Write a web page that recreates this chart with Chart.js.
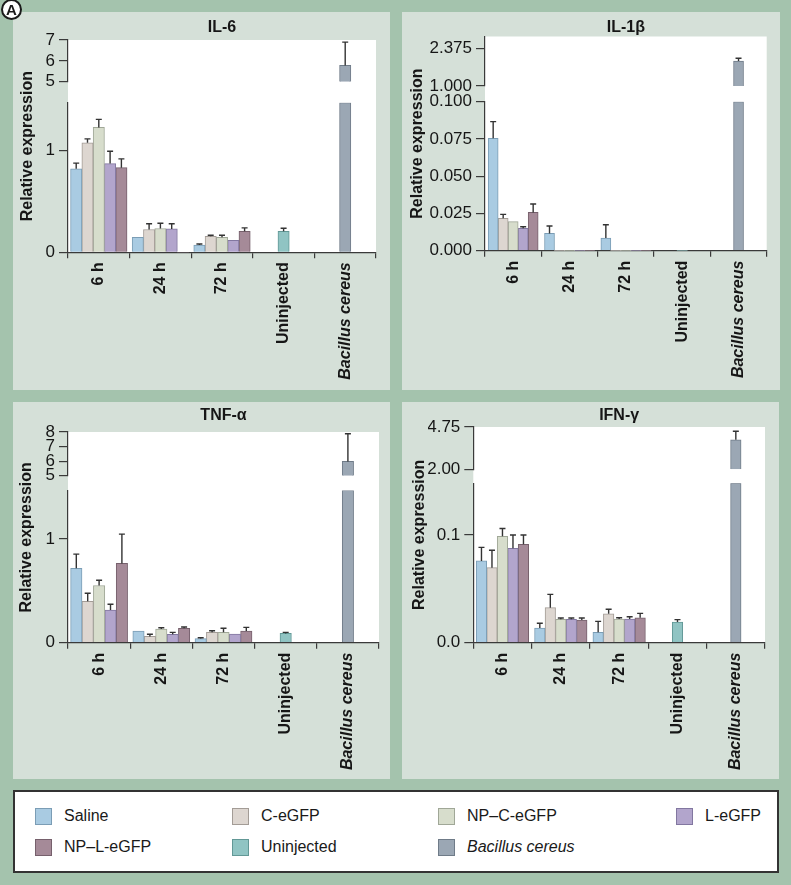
<!DOCTYPE html>
<html>
<head>
<meta charset="utf-8">
<script src="https://cdn.jsdelivr.net/npm/chart.js@4.4.1/dist/chart.umd.min.js"></script>
<style>
  html, body { margin:0; padding:0; }
  body { width:791px; height:885px; position:relative; overflow:hidden; background:#a4c3ad;
         font-family:"Liberation Sans", Arial, sans-serif; }
  .panel { position:absolute; background:#d5e0d8; }
  .panel canvas { position:absolute; left:0; top:0; }
  #legend { position:absolute; left:13px; top:790px; width:762px; height:79px; background:#fff;
            border:2px solid #333; }
  .lg-box { position:absolute; width:15px; height:15px; border:1px solid; }
  .lg-txt { position:absolute; font-size:16px; color:#1a1a1a; line-height:18px; white-space:nowrap; }
  #tag { position:absolute; left:1px; top:-1px; width:17px; height:17px; border:2px solid #1a1a1a;
         border-radius:50%; background:#fff; font:bold 15px "Liberation Sans", Arial, sans-serif;
         text-align:center; line-height:18px; color:#1a1a1a; }
</style>
</head>
<body>
<div class="panel" id="p1" style="left:13px; top:12px; width:377px; height:378px;"><canvas id="c1" width="377" height="378"></canvas></div>
<div class="panel" id="p2" style="left:402px; top:12px; width:378px; height:378px;"><canvas id="c2" width="378" height="378"></canvas></div>
<div class="panel" id="p3" style="left:13px; top:402px; width:377px; height:377px;"><canvas id="c3" width="377" height="377"></canvas></div>
<div class="panel" id="p4" style="left:402px; top:402px; width:377px; height:377px;"><canvas id="c4" width="377" height="377"></canvas></div>
<div id="legend"></div>
<div id="tag">A</div>

<script>
// ---------------- DATA ----------------
const CATEGORIES = ['6 h', '24 h', '72 h', 'Uninjected', 'Bacillus cereus'];
const SERIES = ['Saline', 'C-eGFP', 'NP\u2013C-eGFP', 'L-eGFP', 'NP\u2013L-eGFP', 'Uninjected', 'Bacillus cereus'];
const Y_TITLE = 'Relative expression';

// rows: Saline, C-eGFP, NP–C-eGFP, L-eGFP, NP–L-eGFP ; columns: 6 h, 24 h, 72 h
const IL6_MEAN = [[0.82, 0.148, 0.072], [1.076, 0.224, 0.158], [1.227, 0.234, 0.148], [0.872, 0.230, 0.118], [0.832, 0, 0.207]];
const IL6_SD   = [[0.056, 0.007, 0.010], [0.039, 0.056, 0.010], [0.079, 0.052, 0.020], [0.121, 0.050, 0.007], [0.086, 0, 0.033]];
const IL6_UNINJ = [0.207, 0.030];   // mean, sd
const IL6_BC    = [5.78, 1.12];     // mean, sd
const IL6_LOW_TICKS = [0, 1];
const IL6_HIGH_TICKS = [5, 6, 7];

const IL1B_MEAN = [[0.0754, 0.0116, 0.0085], [0.0217, 0, 0], [0.0195, 0, 0], [0.0150, 0, 0], [0.0257, 0, 0]];
const IL1B_SD   = [[0.0112, 0.0050, 0.0089], [0.0027, 0, 0], [0.0003, 0, 0], [0.0011, 0, 0], [0.0056, 0, 0]];
const IL1B_UNINJ = [0, 0];
const IL1B_BC    = [1.91, 0.10];
const IL1B_LOW_TICKS = [0, 0.025, 0.05, 0.075, 0.1];
const IL1B_HIGH_TICKS = [1, 2.375];

const TNF_MEAN = [[0.719, 0.113, 0.039], [0.400, 0.061, 0.100], [0.552, 0.132, 0.100], [0.316, 0.081, 0.084], [0.765, 0.139, 0.113]];
const TNF_SD   = [[0.136, 0.006, 0.009], [0.077, 0.020, 0.016], [0.051, 0.013, 0.039], [0.055, 0.019, 0.006], [0.283, 0.013, 0.035]];
const TNF_UNINJ = [0.090, 0.010];
const TNF_BC    = [5.98, 1.90];
const TNF_LOW_TICKS = [0, 1];
const TNF_HIGH_TICKS = [5, 6, 7, 8];

const IFN_MEAN = [[0.0759, 0.0136, 0.0096], [0.0697, 0.0325, 0.0269], [0.0988, 0.0217, 0.0220], [0.0876, 0.0217, 0.0220], [0.0913, 0.0210, 0.0232]];
const IFN_SD   = [[0.0126, 0.0044, 0.0102], [0.0161, 0.0124, 0.0041], [0.0072, 0.0012, 0.0012], [0.0124, 0.0012, 0.0021], [0.0087, 0.0019, 0.0040]];
const IFN_UNINJ = [0.0192, 0.0022];
const IFN_BC    = [3.92, 0.55];
const IFN_LOW_TICKS = [0, 0.1];
const IFN_HIGH_TICKS = [2, 4.75];

// ---------------- STYLE ----------------
const FONT = '"Liberation Sans", Arial, sans-serif';
const FILL = ['#a9cbe2', '#ddd6d0', '#d7ddcc', '#b2a5cc', '#a58a98', '#90c4c3', '#9ba7b4'];
const EDGE = ['#7b9db5', '#a39c96', '#a0a797', '#8277a0', '#76606c', '#629896', '#6f7b88'];
const AXIS = '#3a3a3a';
const TEXT = '#161616';
const ERR = '#333333';

const PANELS = [
  { id:'c1', title:'IL-6', mean:IL6_MEAN, sd:IL6_SD, uninj:IL6_UNINJ, bc:IL6_BC,
    low:[0, 1.47], high:[5, 7], lowTicks:IL6_LOW_TICKS, highTicks:IL6_HIGH_TICKS, decLow:0, decHigh:0,
    padRight:14, titleTop:6.7, titleBot:3.7, xH:137.7, ytPad:4.9, ytW:26, axisW:29,
    wHigh:41.7, wGap:21, wLow:149.6, bar:11.3 },
  { id:'c2', title:'IL-1\u03b2', mean:IL1B_MEAN, sd:IL1B_SD, uninj:IL1B_UNINJ, bc:IL1B_BC,
    low:[0, 0.1], high:[1, 2.8], lowTicks:IL1B_LOW_TICKS, highTicks:IL1B_HIGH_TICKS, decLow:3, decHigh:3,
    padRight:13.3, titleTop:6.7, titleBot:0.2, xH:139.3, ytPad:5.9, ytW:26, axisW:57,
    wHigh:49.5, wGap:15.7, wLow:149, bar:10 },
  { id:'c3', title:'TNF-\u03b1', mean:TNF_MEAN, sd:TNF_SD, uninj:TNF_UNINJ, bc:TNF_BC,
    low:[0, 1.47], high:[5, 8], lowTicks:TNF_LOW_TICKS, highTicks:TNF_HIGH_TICKS, decLow:0, decHigh:0,
    padRight:11, titleTop:5, titleBot:7.4, xH:136.3, ytPad:4.4, ytW:26, axisW:29,
    wHigh:43.7, wGap:14.7, wLow:152.3, bar:11.4 },
  { id:'c4', title:'IFN-\u03b3', mean:IFN_MEAN, sd:IFN_SD, uninj:IFN_UNINJ, bc:IFN_BC,
    low:[0, 0.148], high:[2, 4.75], lowTicks:IFN_LOW_TICKS, highTicks:IFN_HIGH_TICKS, decLow:1, decHigh:2,
    padRight:14, titleTop:5.2, titleBot:2.2, xH:136.3, ytPad:8.4, ytW:26, axisW:45.3,
    wHigh:42.3, wGap:14, wLow:159.4, bar:10.5 }
];

// ---------------- PLUGINS ----------------
const plotBackground = {
  id: 'plotBackground',
  beforeDraw(chart) {
    const a = chart.chartArea, ctx = chart.ctx;
    ctx.save(); ctx.fillStyle = '#ffffff';
    ctx.fillRect(a.left, a.top, a.right - a.left, a.bottom - a.top);
    ctx.restore();
  }
};
const errorBars = {
  id: 'errorBars',
  afterDatasetsDraw(chart) {
    const ctx = chart.ctx;
    chart.data.datasets.forEach((ds, i) => {
      if (!ds.errTop) return;
      const meta = chart.getDatasetMeta(i);
      const vs = meta.vScale;
      meta.data.forEach((el, j) => {
        const top = ds.errTop[j];
        if (top == null || ds.data[j] == null) return;
        const yTop = vs.getPixelForValue(top);
        if (el.y - yTop < 0.8) return;
        ctx.save();
        ctx.strokeStyle = ERR; ctx.lineWidth = 1.4;
        ctx.beginPath();
        ctx.moveTo(el.x, el.y); ctx.lineTo(el.x, yTop);
        ctx.moveTo(el.x - 3, yTop); ctx.lineTo(el.x + 3, yTop);
        ctx.stroke();
        ctx.restore();
      });
    });
  }
};

// ---------------- BUILD ----------------
function build(p) {
  const nT = 3;
  const pad = (arr, before, after) => [...Array(before).fill(null), ...arr, ...Array(after).fill(null)];
  const datasets = [];
  for (let s = 0; s < 5; s++) {
    datasets.push({
      label: SERIES[s], yAxisID: 'yLow',
      data: pad(p.mean[s], 0, 2),
      errTop: pad(p.mean[s].map((m, k) => m + p.sd[s][k]), 0, 2),
      backgroundColor: FILL[s], borderColor: EDGE[s]
    });
  }
  datasets.push({
    label: SERIES[5], yAxisID: 'yLow',
    data: pad([p.uninj[0]], nT, 1), errTop: pad([p.uninj[0] + p.uninj[1]], nT, 1),
    backgroundColor: FILL[5], borderColor: EDGE[5]
  });
  datasets.push({
    label: SERIES[6], yAxisID: 'yLow', stack: 'bc',
    data: pad([Math.min(p.bc[0], p.low[1])], nT + 1, 0),
    backgroundColor: FILL[6], borderColor: EDGE[6]
  });
  datasets.push({
    label: SERIES[6] + ' (upper)', yAxisID: 'yHigh', stack: 'bc',
    data: pad([[p.high[0], p.bc[0]]], nT + 1, 0),
    errTop: pad([p.bc[0] + p.bc[1]], nT + 1, 0),
    backgroundColor: FILL[6], borderColor: EDGE[6]
  });

  const tickFont = { family: FONT, size: 17 };
  const valueAxis = (range, ticks, dec, weight, sw) => ({
    type: 'linear', position: 'left', stack: 'v', stackWeight: sw, weight: weight,
    min: range[0], max: range[1], stacked: false,
    grid: { drawOnChartArea: false, drawTicks: true, tickLength: 9, color: AXIS, lineWidth: 1.2 },
    border: { display: true, color: AXIS, width: 1.2 },
    ticks: { autoSkip: false, padding: 4, font: tickFont, color: TEXT,
             callback: (v) => Number(v).toFixed(dec) },
    afterBuildTicks: (s) => { s.ticks = ticks.map(v => ({ value: v })); },
    afterFit: (s) => { s.width = p.axisW; }
  });

  return new Chart(document.getElementById(p.id), {
    type: 'bar',
    data: { labels: CATEGORIES, datasets },
    options: {
      responsive: false, animation: false, devicePixelRatioOverride: 1,
      layout: { padding: { left: 0, top: 0, bottom: 0, right: p.padRight } },
      datasets: { bar: { skipNull: true, barThickness: p.bar,
        borderWidth: (c) => (c.raw ? 1 : 0), borderSkipped: 'start' } },
      plugins: {
        legend: { display: false },
        tooltip: { enabled: false },
        title: { display: true, text: p.title, fullSize: false, color: TEXT,
                 font: { family: FONT, size: 16, weight: 'bold', lineHeight: 1.1 },
                 padding: { top: p.titleTop, bottom: p.titleBot } }
      },
      scales: {
        x: {
          type: 'category', position: 'bottom', offset: true,
          grid: { drawOnChartArea: false, drawTicks: true, tickLength: 6, color: AXIS, lineWidth: 1.2, offset: true },
          border: { display: true, color: AXIS, width: 1.2 },
          ticks: { autoSkip: false, minRotation: 90, maxRotation: 90, padding: 4, color: TEXT,
                   font: (c) => ({ family: FONT, size: 16, weight: 'bold',
                                   style: c.index === 4 ? 'italic' : 'normal' }) },
          afterFit: (s) => { s.height = p.xH; }
        },
        yTitle: {
          type: 'linear', position: 'left', weight: 10, display: true,
          grid: { display: false, drawTicks: false }, border: { display: false },
          ticks: { display: false },
          title: { display: true, text: Y_TITLE, color: TEXT,
                   font: { family: FONT, size: 16, weight: 'bold', lineHeight: 1.2 },
                   padding: { top: p.ytPad, bottom: 0 } },
          afterFit: (s) => { s.width = p.ytW; }
        },
        yHigh: valueAxis(p.high, p.highTicks, p.decHigh, 3, p.wHigh),
        yGap: {
          type: 'linear', position: 'left', stack: 'v', stackWeight: p.wGap, weight: 2, display: true,
          grid: { display: false, drawTicks: false }, border: { display: false }, ticks: { display: false },
          afterFit: (s) => { s.width = p.axisW; }
        },
        yLow: valueAxis(p.low, p.lowTicks, p.decLow, 1, p.wLow)
      }
    },
    plugins: [plotBackground, errorBars]
  });
}

PANELS.forEach(build);

// ---------------- LEGEND ----------------
const LEGEND_COLS = [20, 217, 423, 661];
const LEGEND_ROWS = [16, 47];
const legend = document.getElementById('legend');
SERIES.forEach((name, i) => {
  const col = i < 4 ? i : i - 4;
  const row = i < 4 ? 0 : 1;
  const bx = LEGEND_COLS[col], by = LEGEND_ROWS[row];
  const box = document.createElement('div');
  box.className = 'lg-box';
  box.style.left = bx + 'px'; box.style.top = by + 'px';
  box.style.background = FILL[i]; box.style.borderColor = EDGE[i];
  legend.appendChild(box);
  const t = document.createElement('div');
  t.className = 'lg-txt';
  t.style.left = (bx + 29) + 'px'; t.style.top = (by - 1) + 'px';
  if (i === 6) t.style.fontStyle = 'italic';
  t.textContent = name;
  legend.appendChild(t);
});
</script>
</body>
</html>
